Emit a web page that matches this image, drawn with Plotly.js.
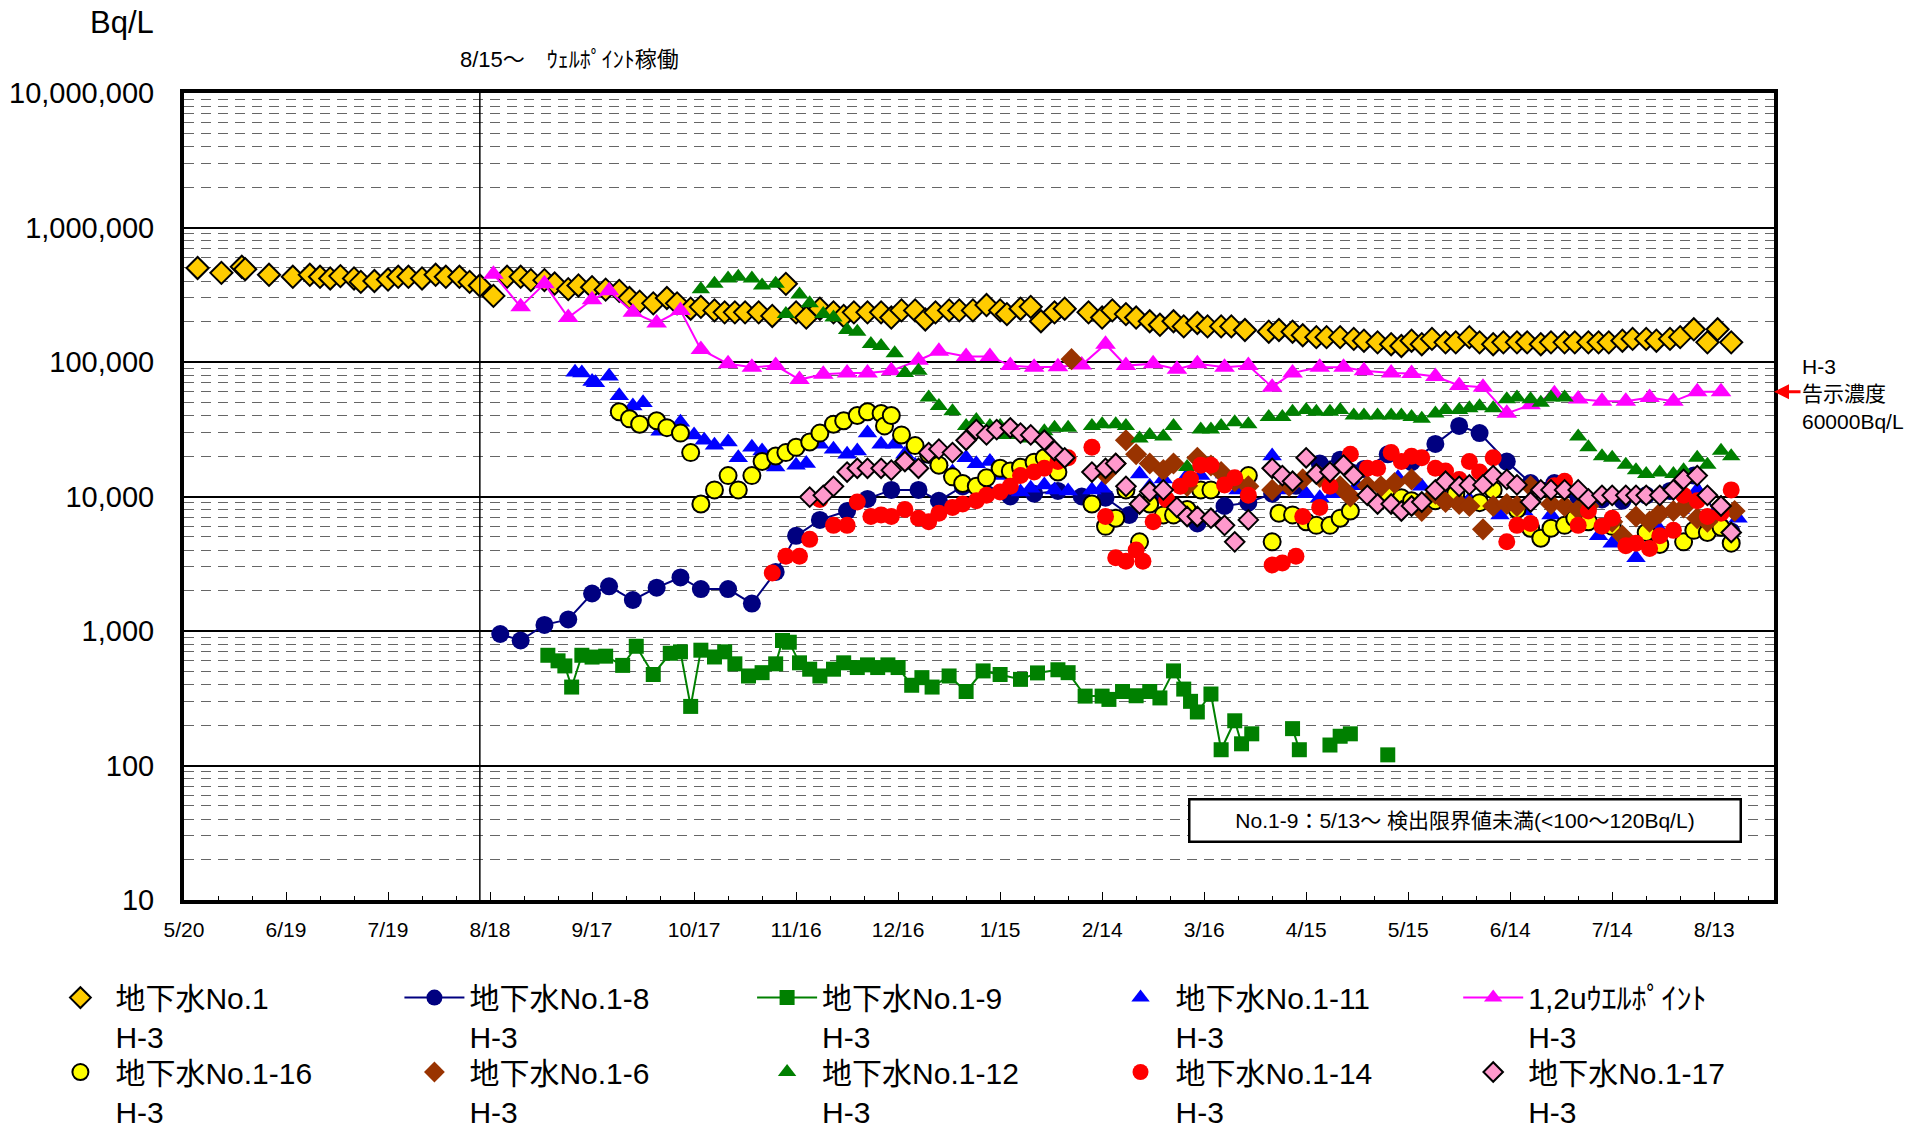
<!DOCTYPE html>
<html>
<head>
<meta charset="utf-8">
<script src="https://cdn.plot.ly/plotly-3.0.1.min.js"></script>
<style>html,body{margin:0;padding:0;background:#fff;}#chart{width:1924px;height:1129px;}</style>
</head>
<body>
<div id="chart"></div>
<script>
// ---------------- DATA ----------------
const tickDates = ['2013-05-20','2013-06-19','2013-07-19','2013-08-18','2013-09-17','2013-10-17','2013-11-16','2013-12-16','2014-01-15','2014-02-14','2014-03-16','2014-04-15','2014-05-15','2014-06-14','2014-07-14','2014-08-13'];
const yTickVals = [10,100,1000,10000,100000,1000000,10000000];
const yTickText = ['10','100','1,000','10,000','100,000','1,000,000','10,000,000'];

const no1Dates = ['2013-05-24','2013-05-31','2013-06-06','2013-06-07','2013-06-14','2013-06-21','2013-06-26','2013-06-29','2013-07-02','2013-07-05','2013-07-09','2013-07-11','2013-07-15','2013-07-19','2013-07-22','2013-07-25','2013-07-29','2013-08-02','2013-08-05','2013-08-09','2013-08-12','2013-08-15','2013-08-19','2013-08-23','2013-08-27','2013-08-30','2013-09-03','2013-09-06','2013-09-10','2013-09-13','2013-09-17','2013-09-21','2013-09-25','2013-09-28','2013-10-01','2013-10-05','2013-10-09','2013-10-12','2013-10-16','2013-10-19','2013-10-23','2013-10-26','2013-10-29','2013-11-01','2013-11-05','2013-11-09','2013-11-13','2013-11-16','2013-11-19','2013-11-23','2013-11-27','2013-11-30','2013-12-03','2013-12-07','2013-12-11','2013-12-14','2013-12-17','2013-12-21','2013-12-24','2013-12-27','2013-12-31','2014-01-03','2014-01-07','2014-01-11','2014-01-15','2014-01-17','2014-01-21','2014-01-24','2014-01-27','2014-01-31','2014-02-03','2014-02-10','2014-02-14','2014-02-17','2014-02-21','2014-02-24','2014-02-28','2014-03-03','2014-03-07','2014-03-10','2014-03-14','2014-03-17','2014-03-21','2014-03-24','2014-03-28','2014-04-04','2014-04-07','2014-04-11','2014-04-14','2014-04-18','2014-04-21','2014-04-25','2014-04-29','2014-05-02','2014-05-06','2014-05-10','2014-05-13','2014-05-16','2014-05-19','2014-05-22','2014-05-26','2014-05-29','2014-06-02','2014-06-05','2014-06-09','2014-06-12','2014-06-16','2014-06-19','2014-06-23','2014-06-26','2014-06-30','2014-07-03','2014-07-07','2014-07-10','2014-07-13','2014-07-17','2014-07-20','2014-07-24','2014-07-27','2014-07-31','2014-08-03','2014-08-07','2014-08-11','2014-08-14','2014-08-18'];
const no1Vals = [500000,460000,510000,490000,445000,430000,445000,430000,418000,435000,418000,394000,400000,410000,430000,430000,418000,445000,430000,430000,394000,370000,310000,430000,430000,406000,406000,383000,348000,371000,360000,345000,338000,299000,281000,273000,299000,273000,249000,257000,242000,234000,234000,234000,234000,220000,381000,234000,214000,249000,234000,220000,234000,234000,234000,214000,242000,242000,207000,234000,242000,242000,242000,265000,242000,227000,249000,257000,201000,234000,249000,234000,214000,242000,227000,214000,201000,189000,201000,184000,195000,184000,184000,184000,173000,168000,173000,168000,158000,153000,153000,153000,148500,144000,140000,135600,131500,144000,135600,148500,140000,140000,153000,140000,135600,140000,140000,140000,135600,140000,140000,140000,140000,140000,140000,144000,148500,148500,144000,148500,153000,175000,140000,175000,140000];

const no1_8Dates = ['2013-08-21','2013-08-27','2013-09-03','2013-09-10','2013-09-17','2013-09-22','2013-09-29','2013-10-06','2013-10-13','2013-10-19','2013-10-27','2013-11-03','2013-11-10','2013-11-16','2013-11-23','2013-12-01','2013-12-07','2013-12-14','2013-12-22','2013-12-28','2014-01-04','2014-01-11','2014-01-18','2014-01-25','2014-02-01','2014-02-08','2014-02-15','2014-02-22','2014-03-01','2014-03-08','2014-03-14','2014-03-22','2014-03-29','2014-04-05','2014-04-12','2014-04-19','2014-04-25','2014-05-02','2014-05-09','2014-05-16','2014-05-23','2014-05-30','2014-06-05','2014-06-13','2014-06-20','2014-06-27','2014-07-04','2014-07-11','2014-07-17','2014-07-24','2014-07-31','2014-08-07','2014-08-14','2014-08-18'];
const no1_8Vals = [950,850,1110,1220,1900,2150,1700,2100,2500,2050,2050,1600,2750,5100,6700,7800,9600,11200,11200,9300,11900,10500,10000,10500,11000,10000,9800,7300,10000,7500,6300,8500,9000,10500,12000,17600,18800,16000,20600,18000,24600,33500,29600,18200,12600,12600,10000,9500,9300,10200,11000,14300,7000,5500];

const no1_9Dates = ['2013-09-04','2013-09-07','2013-09-09','2013-09-11','2013-09-14','2013-09-17','2013-09-21','2013-09-26','2013-09-30','2013-10-05','2013-10-10','2013-10-13','2013-10-16','2013-10-19','2013-10-23','2013-10-26','2013-10-29','2013-11-02','2013-11-06','2013-11-10','2013-11-12','2013-11-14','2013-11-17','2013-11-20','2013-11-23','2013-11-27','2013-11-30','2013-12-04','2013-12-07','2013-12-10','2013-12-13','2013-12-16','2013-12-20','2013-12-23','2013-12-26','2013-12-31','2014-01-05','2014-01-10','2014-01-15','2014-01-21','2014-01-26','2014-02-01','2014-02-04','2014-02-09','2014-02-14','2014-02-16','2014-02-20','2014-02-24','2014-02-28','2014-03-03','2014-03-07','2014-03-10','2014-03-12','2014-03-14','2014-03-18','2014-03-21','2014-03-25','2014-03-27','2014-03-30','2014-04-05','2014-04-11','2014-04-13','2014-04-17','2014-04-22','2014-04-25','2014-04-28','2014-05-03','2014-05-09'];
const no1_9Vals = [660,600,550,383,660,640,650,555,770,475,683,700,275,720,641,700,570,463,490,570,850,825,580,520,463,520,580,535,560,535,560,535,395,450,383,463,355,505,475,437,488,515,490,328,328,310,355,330,355,318,505,370,300,250,340,131,215,145,172,null,188,131,null,142,165,172,null,120];

const no1_11Dates = ['2013-09-12','2013-09-14','2013-09-17','2013-09-18','2013-09-22','2013-09-25','2013-09-29','2013-10-02','2013-10-07','2013-10-13','2013-10-17','2013-10-20','2013-10-23','2013-10-27','2013-10-30','2013-11-03','2013-11-06','2013-11-10','2013-11-16','2013-11-19','2013-11-23','2013-11-27','2013-12-01','2013-12-04','2013-12-07','2013-12-11','2013-12-15','2013-12-18','2013-12-21','2013-12-25','2013-12-28','2014-01-01','2014-01-05','2014-01-08','2014-01-12','2014-01-15','2014-01-18','2014-01-21','2014-01-24','2014-01-28','2014-01-31','2014-02-04','2014-02-11','2014-02-14','2014-02-21','2014-02-25','2014-02-28','2014-03-04','2014-03-11','2014-03-15','2014-03-22','2014-03-26','2014-04-05','2014-04-08','2014-04-15','2014-04-19','2014-04-23','2014-04-30','2014-05-10','2014-05-12','2014-05-19','2014-05-26','2014-06-02','2014-06-11','2014-06-18','2014-06-26','2014-07-03','2014-07-10','2014-07-14','2014-07-21','2014-07-27','2014-08-03','2014-08-08','2014-08-13','2014-08-20'];
const no1_11Vals = [84000,83000,71500,70000,78400,56000,47000,49700,30500,35600,28700,26200,24000,25400,19400,23200,21800,16600,17100,17600,24500,22500,20600,21800,29600,24500,24500,20600,17100,19000,18200,15200,19400,17500,18200,14300,11200,10800,11500,12200,11200,11000,11200,11500,12000,14700,11900,13500,14300,14300,14700,11200,20000,11200,10500,9800,10500,12000,11200,13800,11900,10500,9500,7300,7800,7300,6500,5100,4500,3500,6100,8000,11200,7500,6900];

const wpDates = ['2013-08-19','2013-08-27','2013-09-03','2013-09-10','2013-09-17','2013-09-22','2013-09-29','2013-10-06','2013-10-13','2013-10-19','2013-10-27','2013-11-03','2013-11-10','2013-11-17','2013-11-24','2013-12-01','2013-12-07','2013-12-14','2013-12-22','2013-12-28','2014-01-05','2014-01-12','2014-01-18','2014-01-25','2014-02-01','2014-02-08','2014-02-15','2014-02-21','2014-03-01','2014-03-08','2014-03-14','2014-03-22','2014-03-29','2014-04-05','2014-04-11','2014-04-19','2014-04-26','2014-05-02','2014-05-10','2014-05-16','2014-05-23','2014-05-30','2014-06-06','2014-06-13','2014-06-20','2014-06-27','2014-07-04','2014-07-11','2014-07-18','2014-07-25','2014-08-01','2014-08-08','2014-08-15'];
const wpVals = [450000,257000,381000,214000,290000,338000,234000,195000,242000,124000,97000,91500,94000,74000,81000,83000,83000,86000,103000,120000,110000,110000,94000,91500,92000,95000,135600,94000,97000,88500,97000,91500,94000,65000,83000,91500,91500,86000,83000,82000,78000,67000,65000,41500,48000,58000,53000,51000,51000,54500,51000,60000,60000];

const no1_16Dates = ['2013-09-25','2013-09-28','2013-10-01','2013-10-06','2013-10-09','2013-10-13','2013-10-16','2013-10-19','2013-10-23','2013-10-27','2013-10-30','2013-11-03','2013-11-06','2013-11-10','2013-11-13','2013-11-16','2013-11-20','2013-11-23','2013-11-27','2013-11-30','2013-12-04','2013-12-07','2013-12-11','2013-12-12','2013-12-14','2013-12-17','2013-12-21','2013-12-25','2013-12-28','2014-01-01','2014-01-04','2014-01-08','2014-01-11','2014-01-15','2014-01-18','2014-01-21','2014-01-25','2014-01-28','2014-02-01','2014-02-11','2014-02-15','2014-02-18','2014-02-21','2014-02-25','2014-02-28','2014-03-04','2014-03-07','2014-03-11','2014-03-15','2014-03-18','2014-03-29','2014-04-05','2014-04-07','2014-04-11','2014-04-15','2014-04-18','2014-04-22','2014-04-25','2014-04-28','2014-05-09','2014-05-13','2014-05-16','2014-05-23','2014-05-29','2014-06-05','2014-06-09','2014-06-16','2014-06-20','2014-06-23','2014-06-26','2014-06-30','2014-07-03','2014-07-07','2014-07-14','2014-07-24','2014-07-28','2014-08-04','2014-08-07','2014-08-11','2014-08-15','2014-08-18'];
const no1_16Vals = [42700,37800,34500,36600,32500,29600,21200,8800,11200,14300,11200,14300,18200,20000,21200,23200,25400,29600,34500,36600,40000,42700,41400,33500,40000,28700,23900,20600,17100,14000,12500,11900,13800,16200,15500,16500,18000,19400,15200,8800,6000,6900,11200,4600,8800,7300,7300,8000,11200,11200,14300,4600,7500,7300,6500,6100,6100,6900,7800,10500,9800,9300,9300,10500,9000,11200,8000,5800,4900,5800,6100,6900,6500,6000,5400,4400,4600,5600,5400,5900,4500];

const no1_6Dates = ['2014-02-05','2014-02-15','2014-02-18','2014-02-21','2014-02-24','2014-02-28','2014-03-04','2014-03-07','2014-03-11','2014-03-14','2014-03-18','2014-03-21','2014-03-25','2014-03-29','2014-04-05','2014-04-10','2014-04-14','2014-04-19','2014-04-25','2014-04-28','2014-05-03','2014-05-07','2014-05-11','2014-05-16','2014-05-19','2014-05-23','2014-05-26','2014-05-30','2014-06-02','2014-06-06','2014-06-09','2014-06-13','2014-06-16','2014-06-20','2014-06-26','2014-06-30','2014-07-04','2014-07-07','2014-07-14','2014-07-17','2014-07-21','2014-07-25','2014-07-28','2014-08-01','2014-08-04','2014-08-08','2014-08-11','2014-08-15','2014-08-19'];
const no1_6Vals = [105000,14700,17600,26200,20600,17600,15700,17600,12000,19400,17000,15200,13000,11900,11200,12000,13400,14000,11900,10000,12000,11900,12600,13400,7800,10500,9100,8800,8500,5700,8500,8800,8500,11900,8800,8500,8000,8500,6500,5100,7100,6500,7500,7800,8300,6900,6500,8500,7800];

const no1_12Dates = ['2013-10-19','2013-10-23','2013-10-27','2013-10-30','2013-11-03','2013-11-06','2013-11-10','2013-11-13','2013-11-17','2013-11-20','2013-11-24','2013-11-27','2013-12-01','2013-12-04','2013-12-08','2013-12-11','2013-12-15','2013-12-18','2013-12-22','2013-12-25','2013-12-28','2014-01-01','2014-01-05','2014-01-08','2014-01-12','2014-01-15','2014-01-17','2014-01-21','2014-01-24','2014-01-28','2014-01-31','2014-02-04','2014-02-11','2014-02-14','2014-02-18','2014-02-21','2014-02-25','2014-02-28','2014-03-04','2014-03-07','2014-03-11','2014-03-15','2014-03-18','2014-03-21','2014-03-25','2014-03-29','2014-04-04','2014-04-08','2014-04-11','2014-04-15','2014-04-18','2014-04-22','2014-04-25','2014-04-29','2014-05-02','2014-05-06','2014-05-10','2014-05-13','2014-05-16','2014-05-19','2014-05-23','2014-05-26','2014-05-30','2014-06-02','2014-06-05','2014-06-09','2014-06-13','2014-06-16','2014-06-20','2014-06-23','2014-06-26','2014-06-30','2014-07-04','2014-07-07','2014-07-11','2014-07-14','2014-07-18','2014-07-21','2014-07-24','2014-07-28','2014-08-01','2014-08-04','2014-08-08','2014-08-11','2014-08-15','2014-08-18'];
const no1_12Vals = [348000,381000,418000,431000,418000,371000,381000,227000,318000,273000,227000,214000,173000,168000,136000,131500,116000,83000,86000,54500,47000,43000,33500,37000,33500,33500,28700,28700,27000,30600,32400,32400,33500,34500,34500,33500,27000,28700,27900,33500,16600,31500,31500,33500,35600,34500,39000,39000,42700,44000,42700,42700,44000,40000,40000,40000,40000,40000,39000,37800,41400,44000,44000,45300,46800,45300,52800,54500,52800,49700,54500,54500,27900,23200,19900,19400,17200,15700,14700,15100,14700,15700,19400,17200,21900,19900];

const no1_14Dates = ['2013-11-09','2013-11-13','2013-11-17','2013-11-20','2013-11-23','2013-11-27','2013-12-01','2013-12-04','2013-12-08','2013-12-11','2013-12-14','2013-12-18','2013-12-22','2013-12-25','2013-12-28','2014-01-01','2014-01-04','2014-01-08','2014-01-11','2014-01-15','2014-01-18','2014-01-21','2014-01-25','2014-01-28','2014-02-01','2014-02-04','2014-02-11','2014-02-15','2014-02-18','2014-02-21','2014-02-24','2014-02-26','2014-03-01','2014-03-05','2014-03-09','2014-03-12','2014-03-15','2014-03-18','2014-03-22','2014-03-25','2014-03-29','2014-04-05','2014-04-08','2014-04-12','2014-04-14','2014-04-19','2014-04-22','2014-04-28','2014-05-03','2014-05-06','2014-05-10','2014-05-13','2014-05-16','2014-05-19','2014-05-23','2014-05-26','2014-05-30','2014-06-02','2014-06-05','2014-06-09','2014-06-13','2014-06-16','2014-06-20','2014-06-27','2014-06-30','2014-07-04','2014-07-07','2014-07-11','2014-07-14','2014-07-18','2014-07-21','2014-07-25','2014-07-28','2014-08-01','2014-08-04','2014-08-08','2014-08-11','2014-08-15','2014-08-18'];
const no1_14Vals = [2700,3600,3600,4800,9500,6100,6100,9100,7100,7300,7100,8000,6900,6500,7500,8300,8800,9300,10200,10800,11900,14300,15200,16200,18200,19400,23200,7100,3500,3300,4000,3300,6500,9500,11900,13500,17100,17100,12200,13800,10200,3100,3200,3600,7100,8300,11900,20600,16200,16200,21200,18200,19900,19400,16200,15500,13400,18200,15200,19400,4600,6100,6300,12000,13000,6100,7800,6000,6900,4300,4500,4100,5100,5600,10200,9300,7100,7500,11200];

const no1_17Dates = ['2013-11-20','2013-11-24','2013-11-27','2013-12-01','2013-12-04','2013-12-07','2013-12-11','2013-12-14','2013-12-18','2013-12-22','2013-12-25','2013-12-28','2014-01-01','2014-01-05','2014-01-08','2014-01-11','2014-01-14','2014-01-18','2014-01-21','2014-01-24','2014-01-28','2014-01-31','2014-02-03','2014-02-11','2014-02-15','2014-02-18','2014-02-21','2014-02-25','2014-02-28','2014-03-04','2014-03-08','2014-03-11','2014-03-14','2014-03-18','2014-03-22','2014-03-25','2014-03-29','2014-04-05','2014-04-08','2014-04-11','2014-04-15','2014-04-18','2014-04-22','2014-04-26','2014-04-29','2014-05-03','2014-05-06','2014-05-10','2014-05-13','2014-05-16','2014-05-19','2014-05-23','2014-05-26','2014-05-30','2014-06-02','2014-06-06','2014-06-09','2014-06-13','2014-06-16','2014-06-20','2014-06-23','2014-06-26','2014-06-30','2014-07-04','2014-07-07','2014-07-11','2014-07-14','2014-07-18','2014-07-21','2014-07-24','2014-07-28','2014-08-01','2014-08-04','2014-08-08','2014-08-11','2014-08-15','2014-08-18'];
const no1_17Vals = [9900,10200,11900,15200,16200,16200,16200,15700,18200,16200,21200,22500,21200,26200,31400,28700,31400,32400,29600,28700,26200,21900,19400,15200,16200,17600,11900,8800,10900,11200,8300,7100,7100,6900,6100,4600,6700,16200,14300,13000,19400,14700,15200,17100,14300,10200,8800,8800,7800,8500,9100,11200,13000,11900,12200,12200,14300,13400,12200,9100,11200,11200,11200,11200,9600,10200,10200,10200,10200,10200,10200,11200,13400,14300,10200,8500,5400];

const names = ['地下水No.1<br>H-3','地下水No.1-8<br>H-3','地下水No.1-9<br>H-3','地下水No.1-11<br>H-3','1,2uｳｴﾙﾎﾟｲﾝﾄ<br>H-3','地下水No.1-16<br>H-3','地下水No.1-6<br>H-3','地下水No.1-12<br>H-3','地下水No.1-14<br>H-3','地下水No.1-17<br>H-3'];

// ---------------- STYLE ----------------
const SANS = 'Liberation Sans, Arial, Noto Sans CJK JP, sans-serif';
const NARROW = 'Liberation Sans Narrow, Arial Narrow, Liberation Sans, Noto Sans CJK JP, sans-serif';

function tr(name, x, y, legend, mode, marker, line) {
  const t = {type:'scatter', name:name, x:x, y:y, legend:legend, mode:mode, marker:marker, connectgaps:false, hoverinfo:'skip'};
  if (line) t.line = line;
  return t;
}
const data = [
  tr(names[0], no1Dates, no1Vals, 'legend', 'markers', {symbol:'diamond', size:17, color:'#FFCC00', line:{color:'#000', width:2}}),
  tr(names[1], no1_8Dates, no1_8Vals, 'legend2', 'lines+markers', {symbol:'circle', size:18, color:'#000080'}, {color:'#000080', width:2}),
  tr(names[2], no1_9Dates, no1_9Vals, 'legend3', 'lines+markers', {symbol:'square', size:15, color:'#008000'}, {color:'#008000', width:2}),
  tr(names[3], no1_11Dates, no1_11Vals, 'legend4', 'markers', {symbol:'triangle-up', size:17, color:'#0000FF'}),
  tr(names[4], wpDates, wpVals, 'legend5', 'lines+markers', {symbol:'triangle-up', size:18, color:'#FF00FF'}, {color:'#FF00FF', width:2}),
  tr(names[5], no1_16Dates, no1_16Vals, 'legend6', 'markers', {symbol:'circle', size:17, color:'#FFFF00', line:{color:'#000', width:2}}),
  tr(names[6], no1_6Dates, no1_6Vals, 'legend7', 'markers', {symbol:'diamond', size:17, color:'#993300'}),
  tr(names[7], no1_12Dates, no1_12Vals, 'legend8', 'markers', {symbol:'triangle-up', size:16, color:'#008000'}),
  tr(names[8], no1_14Dates, no1_14Vals, 'legend9', 'markers', {symbol:'circle', size:17, color:'#FF0000'}),
  tr(names[9], no1_17Dates, no1_17Vals, 'legend10', 'markers', {symbol:'diamond', size:15, color:'#FF99CC', line:{color:'#000', width:2}})
];

function leg(x, y) {
  return {xref:'container', yref:'container', x:x, y:y, xanchor:'left', yanchor:'top',
    orientation:'v', valign:'top', itemwidth:60, tracegroupgap:0, traceorder:'normal',
    bgcolor:'rgba(0,0,0,0)', font:{family:NARROW, size:30, color:'#000'}};
}
const colX = [0.0236, 0.2076, 0.3909, 0.5746, 0.7579];
const rowY = [0.1394, 0.0735];

const DAY = 86400000;
const layout = {
  width:1924, height:1129,
  margin:{l:184, r:150, t:93, b:229, autoexpand:false},
  paper_bgcolor:'#fff', plot_bgcolor:'#fff',
  showlegend:true,
  legend:leg(colX[0], rowY[0]), legend2:leg(colX[1], rowY[0]), legend3:leg(colX[2], rowY[0]), legend4:leg(colX[3], rowY[0]), legend5:leg(colX[4], rowY[0]),
  legend6:leg(colX[0], rowY[1]), legend7:leg(colX[1], rowY[1]), legend8:leg(colX[2], rowY[1]), legend9:leg(colX[3], rowY[1]), legend10:leg(colX[4], rowY[1]),
  xaxis:{type:'date', range:['2013-05-20','2014-08-30 14:00'], tickmode:'array', tickvals:tickDates,
    tickformat:'%-m/%-d', ticks:'inside', ticklen:8, tickwidth:1, tickcolor:'#000', tickangle:0,
    showgrid:false, showline:true, linewidth:4, linecolor:'#000', mirror:true, automargin:false,
    ticklabelstandoff:8, tickfont:{family:SANS, size:21, color:'#000'},
    minor:{tickmode:'linear', tick0:'2013-05-20', dtick:10*DAY, ticks:'inside', ticklen:4, tickwidth:1, tickcolor:'#000', showgrid:false}},
  yaxis:{type:'log', range:[1,7], tickmode:'array', tickvals:yTickVals, ticktext:yTickText,
    showgrid:true, gridcolor:'#000', gridwidth:2, ticks:'', ticklabelstandoff:20, automargin:false,
    showline:true, linewidth:4, linecolor:'#000', mirror:true, zeroline:false,
    tickfont:{family:SANS, size:29, color:'#000'},
    minor:{tickmode:'linear', dtick:'D1', showgrid:true, gridcolor:'#666666', gridwidth:1, griddash:'10px,7px', ticks:''}},
  shapes:[{type:'line', xref:'x', yref:'paper', x0:'2013-08-15', x1:'2013-08-15', y0:0, y1:1, line:{color:'#000', width:1.5}}],
  annotations:[
    {xref:'paper', yref:'paper', x:-0.0174, y:1.0875, xanchor:'right', yanchor:'middle', showarrow:false, text:'Bq/L', font:{family:SANS, size:31, color:'#000'}},
    {xref:'paper', yref:'paper', x:0.1725, y:1.0415, xanchor:'left', yanchor:'middle', showarrow:false, text:'8/15～　ｳｪﾙﾎﾟｲﾝﾄ稼働', font:{family:NARROW, size:22, color:'#000'}},
    {xref:'paper', yref:'paper', x:0.8057, y:0.0991, xanchor:'center', yanchor:'middle', showarrow:false,
      text:'No.1-9：5/13～ 検出限界値未満(&lt;100～120Bq/L)', font:{family:SANS, size:21, color:'#000'},
      bgcolor:'#fff', bordercolor:'#000', borderwidth:2.5, width:545, height:36, borderpad:2},
    {xref:'paper', yref:'paper', x:1.0163, y:0.6265, xanchor:'left', yanchor:'middle', showarrow:false, align:'left',
      text:'H-3<br>告示濃度<br>60000Bq/L', font:{family:SANS, size:21, color:'#000'}},
    {xref:'paper', yref:'y', x:1, y:Math.log10(60000), ax:28, ay:0, showarrow:true, arrowhead:2, arrowsize:1, arrowwidth:3, arrowcolor:'#FF0000', text:''}
  ]
};

Plotly.newPlot('chart', data, layout, {staticPlot:true, displayModeBar:false});
</script>
</body>
</html>
